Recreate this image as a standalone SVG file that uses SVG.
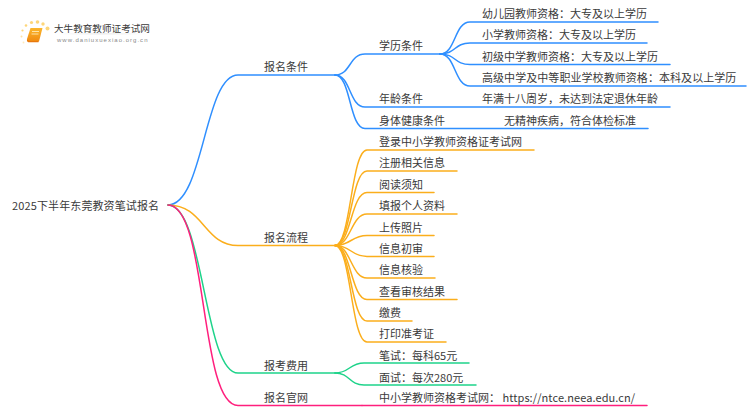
<svg xmlns="http://www.w3.org/2000/svg" width="750" height="410" viewBox="0 0 750 410">
<defs><linearGradient id="bk" x1="0" y1="0" x2="0" y2="1"><stop offset="0" stop-color="#fbb62c"/><stop offset="1" stop-color="#f08a10"/></linearGradient>
<linearGradient id="rule" x1="0" y1="0" x2="1" y2="0"><stop offset="0" stop-color="#ddd" stop-opacity="0"/><stop offset=".5" stop-color="#ddd"/><stop offset="1" stop-color="#ddd" stop-opacity="0"/></linearGradient></defs>
<style>
text{font-family:"Noto Sans CJK SC","Liberation Sans",sans-serif;fill:#3a3a3a;font-size:11px}
.c{fill:none;stroke-width:1.5;stroke-linecap:round}
.b{stroke:#2f8fff}.o{stroke:#fbae1c}.g{stroke:#1ed38a}.p{stroke:#ff1f7d}
.d{fill:#fdd67a}
</style>
<rect width="750" height="410" fill="#fff"/>
<g id="logo">
<circle class="d" cx="47.500" cy="28.500" r="2"/><circle class="d" cx="43" cy="24" r="1.700"/><circle class="d" cx="37.500" cy="22" r="1.800"/><circle class="d" cx="31.500" cy="22.500" r="1.600"/><circle class="d" cx="26" cy="25.500" r="1.300"/><circle class="d" cx="22.500" cy="30.500" r="1.100"/><circle class="d" cx="21.500" cy="36.500" r="1" opacity=".7"/><circle class="d" cx="23.500" cy="42.500" r=".9" opacity=".5"/>
<path d="M30.500 28h12l-3.500 13.500H29q-2.500 0-2-2.500z" fill="url(#bk)"/><path d="M27.500 40q0 1.700 2 1.700h9" fill="none" stroke="#e8780c" stroke-width="1.200"/><path d="M32 31.500h7M31.500 34h7" stroke="#fff2c8" stroke-width=".8"/>
<text x="54" y="31.500" style="font-size:9.600px">大牛教育教师证考试网</text>
<rect x="57" y="33.500" width="90" height=".8" fill="url(#rule)"/>
<text x="57" y="41.500" style="font-size:6px;letter-spacing:1.020px;fill:#8a8a8a;font-family:'Liberation Sans',sans-serif">www.daniuxuexiao.org.cn</text>
</g>
<g id="connectors">
<path class="c b" d="M168 205C204 205 204 75 238 75H335"/>
<path class="c o" d="M168 205C204 205 204 245.500 238 245.500H335"/>
<path class="c g" d="M168 205C204 205 204 373 238 373H335"/>
<path class="c p" d="M168 205C208 205 199 405.500 238 405.500H362"/>
<path class="c b" d="M335 75C351 75 349 54 365 54H440"/>
<path class="c b" d="M335 75C351 75 349 107 365 107H670"/>
<path class="c b" d="M335 75C351 75 349 128.500 365 128.500H648"/>
<path class="c b" d="M440 54C456 54 454 22 470 22H658"/>
<path class="c b" d="M440 54C456 54 454 43 470 43H647"/>
<path class="c b" d="M440 54C456 54 454 64.500 470 64.500H670"/>
<path class="c b" d="M440 54C456 54 454 86 470 86H746"/>
<path class="c o" d="M335 245.500C351 245.500 351 150 367 150H534"/>
<path class="c o" d="M335 245.500C351 245.500 351 171 367 171H457"/>
<path class="c o" d="M335 245.500C351 245.500 351 192.500 367 192.500H434"/>
<path class="c o" d="M335 245.500C351 245.500 351 214 367 214H457"/>
<path class="c o" d="M335 245.500C351 245.500 351 235.500 367 235.500H434"/>
<path class="c o" d="M335 245.500C351 245.500 351 256.500 367 256.500H434"/>
<path class="c o" d="M335 245.500C351 245.500 351 278 367 278H435"/>
<path class="c o" d="M335 245.500C351 245.500 351 299.500 367 299.500H457"/>
<path class="c o" d="M335 245.500C351 245.500 351 321 367 321H412"/>
<path class="c o" d="M335 245.500C351 245.500 351 342 367 342H446"/>
<path class="c g" d="M335 373C350 373 349 363 364 363H469"/>
<path class="c g" d="M335 373C350 373 349 385 364 385H476"/>
<path class="c p" d="M362 405.500H647"/>
</g>
<g id="root"><text x="12" y="210" style="letter-spacing:.12px">2025下半年东莞教资笔试报名</text></g>
<g id="n1"><text x="264" y="71.300">报名条件</text></g>
<g id="n2"><text x="264" y="241.800">报名流程</text></g>
<g id="n3"><text x="264" y="369.800">报考费用</text></g>
<g id="n4"><text x="264" y="401.800">报名官网</text></g>
<g id="n5"><text x="379" y="49.800">学历条件</text></g>
<g id="n6"><text x="379" y="102.800">年龄条件</text></g>
<g id="n7"><text x="379" y="124.800">身体健康条件</text></g>
<g id="n8"><text x="482" y="18.300">幼儿园教师资格：大专及以上学历</text></g>
<g id="n9"><text x="482" y="39.300">小学教师资格：大专及以上学历</text></g>
<g id="n10"><text x="482" y="60.800">初级中学教师资格：大专及以上学历</text></g>
<g id="n11"><text x="482" y="81.800" style="letter-spacing:.06px">高级中学及中等职业学校教师资格：本科及以上学历</text></g>
<g id="n12"><text x="482" y="103.300">年满十八周岁，未达到法定退休年龄</text></g>
<g id="n13"><text x="504" y="124.800">无精神疾病，符合体检标准</text></g>
<g id="n14"><text x="379" y="146.300">登录中小学教师资格证考试网</text></g>
<g id="n15"><text x="379" y="167.300">注册相关信息</text></g>
<g id="n16"><text x="379" y="188.800">阅读须知</text></g>
<g id="n17"><text x="379" y="210.300">填报个人资料</text></g>
<g id="n18"><text x="379" y="231.800">上传照片</text></g>
<g id="n19"><text x="379" y="252.800">信息初审</text></g>
<g id="n20"><text x="379" y="274.300">信息核验</text></g>
<g id="n21"><text x="379" y="295.800">查看审核结果</text></g>
<g id="n22"><text x="379" y="317.300">缴费</text></g>
<g id="n23"><text x="379" y="338.300">打印准考证</text></g>
<g id="n24"><text x="379" y="359.800">笔试：每科65元</text></g>
<g id="n25"><text x="379" y="381.800">面试：每次280元</text></g>
<g id="n26"><text x="379" y="402.300">中小学教师资格考试网： <tspan style="letter-spacing:.09px">https://ntce.neea.edu.cn/</tspan></text></g>
</svg>
